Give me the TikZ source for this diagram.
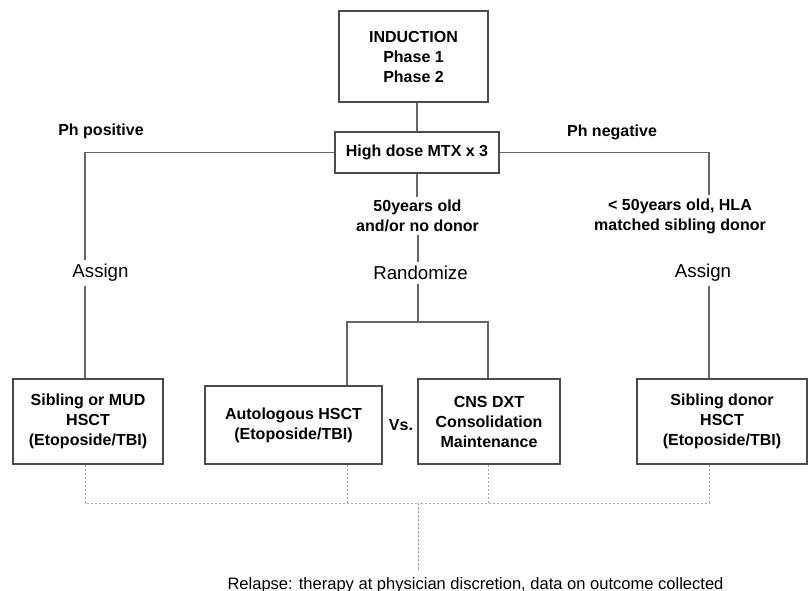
\documentclass[tikz,border=0pt]{standalone}
\usepackage{fontspec}
\setmainfont{Liberation Sans}
\usepackage{tikz}

\tikzset{
  stepbox/.style={draw=black!70, line width=1pt, align=center, font=\bfseries\fontsize{12}{15}\selectfont, inner sep=2pt},
  boldlbl/.style={align=center, font=\bfseries\fontsize{12}{15}\selectfont, inner sep=2.2pt},
  plainlbl/.style={font=\fontsize{14}{17}\selectfont, inner sep=3pt},
  link/.style={draw=black!60, line width=0.9pt},
  relapse/.style={draw=black!35, line width=0.6pt, dash pattern={on 2pt off 1pt}}
}

\begin{document}
\begin{tikzpicture}[x=0.75pt,y=0.75pt,yscale=-1,xscale=1]
\useasboundingbox (0,0) rectangle (809,591);

%Boxes
\node [stepbox, minimum width=149*0.75pt, minimum height=91*0.75pt] (induct) at (413.5,56.5) {INDUCTION\\Phase 1\\Phase 2};
\node [stepbox, minimum width=164*0.75pt, minimum height=41*0.75pt, inner sep=0pt] (mtx) at (417,152.5) {High dose MTX x 3};
\node [stepbox, minimum width=150*0.75pt, minimum height=85*0.75pt] (sibmud) at (88,421.5) {Sibling or MUD\\HSCT\\(Etoposide/TBI)};
\node [stepbox, minimum width=177*0.75pt, minimum height=78*0.75pt] (auto) at (293.5,425) {Autologous HSCT\\(Etoposide/TBI)};
\node [stepbox, minimum width=142*0.75pt, minimum height=85*0.75pt] (cns) at (489,421.5) {CNS DXT\\Consolidation\\Maintenance};
\node [stepbox, minimum width=170*0.75pt, minimum height=85*0.75pt] (sibdon) at (722,421.5) {Sibling donor\\HSCT\\(Etoposide/TBI)};

%Labels
\node [boldlbl] (phpos) at (101,131) {Ph positive};
\node [boldlbl] (phneg) at (612,132) {Ph negative};
\node [boldlbl] (condM) at (417.5,216) {50years old\\and/or no donor};
\node [boldlbl] (condR) at (680,216) {\textless{} 50years old, HLA\\matched sibling donor};
\node [plainlbl] (assignL) at (100.5,273) {Assign};
\node [plainlbl] (rand) at (420.5,273) {Randomize};
\node [plainlbl] (assignR) at (703,273) {Assign};
\node [boldlbl] (vs) at (401,425) {Vs.};
\node [font=\fontsize{12.4}{15}\selectfont, anchor=base, inner sep=0pt] (relapse) at (475.5,589) {Relapse: therapy at physician discretion, data on outcome collected};

%Columns
\coordinate (colL) at (85,0);
\coordinate (colR) at (709,0);
\coordinate (split) at (418,322);
\coordinate (splitL) at (347,322);
\coordinate (splitR) at (488,322);
\coordinate (join) at (418,503);

%Solid links
\draw [link] (induct.south -| mtx.north) -- (mtx.north);
\draw [link] (mtx.west) -| (assignL.north -| colL);
\draw [link] (assignL.south -| colL) -- (sibmud.north -| colL);
\draw [link] (mtx.east) -| (condR.north -| colR);
\draw [link] (assignR.south -| colR) -- (sibdon.north -| colR);
\draw [link] (mtx.south) -- (condM.north -| mtx.south);
\draw [link] (condM.south -| split) -- (rand.north -| split);
\draw [link] (rand.south -| split) -- (split);
\draw [link] (auto.north -| splitL) -- (splitL) -- (splitR) -- (cns.north -| splitR);

%Dashed links
\draw [relapse] (sibmud.south -| colL) |- (join);
\draw [relapse] (auto.south -| splitL) -- (splitL |- join);
\draw [relapse] (cns.south -| splitR) -- (splitR |- join);
\draw [relapse] (sibdon.south -| colR) |- (join);
\draw [relapse, shorten >=5pt] (join) -- (relapse.north -| join);

\end{tikzpicture}
\end{document}
